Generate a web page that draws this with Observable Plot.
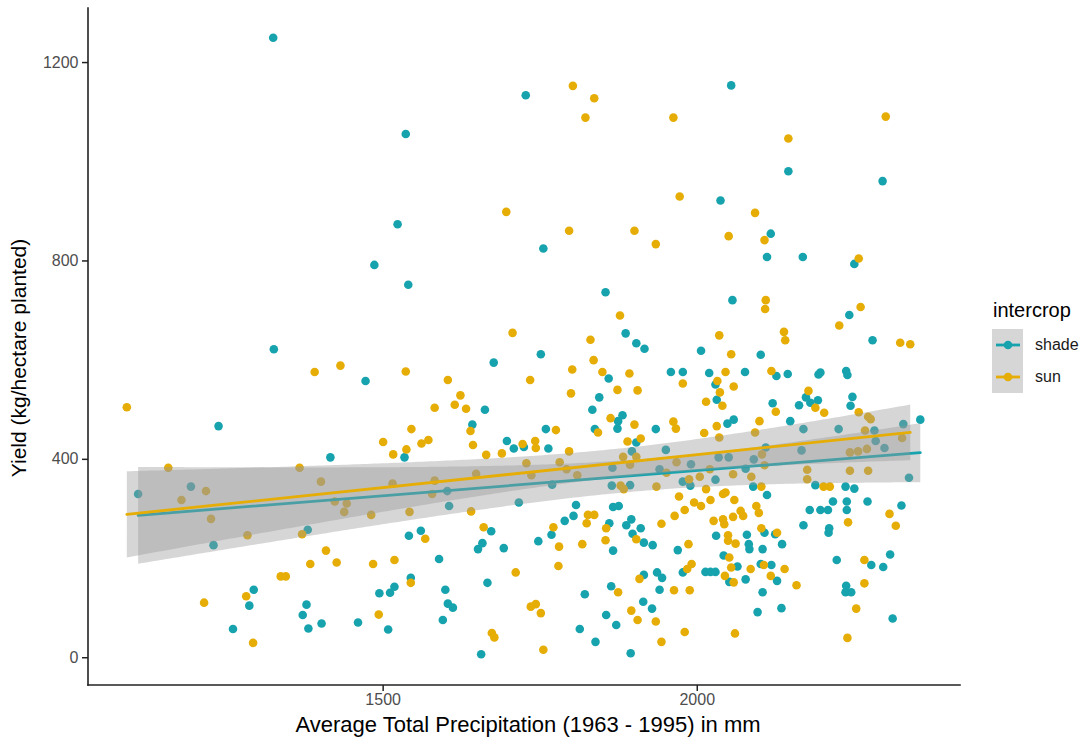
<!DOCTYPE html>
<html><head><meta charset="utf-8">
<script src="https://cdn.jsdelivr.net/npm/d3@7"></script>
<script src="https://cdn.jsdelivr.net/npm/@observablehq/plot@0.6"></script>
<style>
body{margin:0;background:#fff;font-family:"Liberation Sans",Arial,sans-serif;}
#wrap{position:relative;width:1086px;height:740px;overflow:hidden;}
</style></head><body><div id="wrap"></div>
<script>
const groups = ["shade", "sun"];
const groupColors = ["#17A3AE", "#E5AD06"];
const xTicks = [1500, 2000];
const yTicks = [0, 400, 800, 1200];
const xTitle = "Average Total Precipitation (1963 - 1995) in mm";
const yTitle = "Yield (kg/hectare planted)";
const legendTitle = "intercrop";

const shadeX = [1325,1536,1523,1486,1326,1238,1727,2054,2145,2295,2037,2117,1755,2111,2168,2250,1540,1472,1676,1662,1642,1534,1416,1697,1708,1854,1886,1903,1916,1751,1859,1958,1977,2006,2019,2031,2029,1844,1833,1881,1874,1873,1934,1837,1759,1903,1896,1950,1724,1763,2056,2242,2279,2101,2076,2126,2144,2193,2196,2237,2239,2120,2162,2173,2180,2192,2247,2244,2355,2328,2048,2058,2148,2169,2225,2282,2284,2298,2166,2109,2090,2050,2034,1110,1194,1230,1380,1294,1287,1261,1378,1372,1381,1402,1460,1508,1602,1605,1541,1560,1672,1658,1651,1692,1589,1544,1518,1511,1494,1599,1603,1611,1666,1595,1656,1865,1769,1716,1864,1893,1940,1977,1989,1990,2029,1807,1866,1875,1803,1789,1768,1747,1860,1866,1887,1895,1897,1910,1915,1929,1969,2030,1863,1821,1915,1936,1944,1940,1977,2013,2021,2029,1914,1928,1855,1871,1813,1838,1894,2077,2337,2188,2236,2250,2089,2111,2216,2238,2238,2271,2325,2179,2196,2208,2169,2210,2209,2107,2124,2079,2135,2082,2083,2104,2042,2064,2051,2077,2101,2118,2127,2104,2134,2096,2222,2277,2296,2307,2237,2236,2245,2311];
const shadeY = [1250,1056,874,792,622,467,1134,1154,981,961,922,855,825,808,808,794,752,558,595,500,470,404,404,437,422,737,654,634,623,612,563,576,576,619,574,520,551,525,500,489,477,462,461,461,461,434,416,419,425,422,721,691,640,611,576,568,572,571,575,578,570,513,509,525,514,519,526,508,480,471,472,480,477,461,461,458,437,423,418,424,400,404,404,330,345,227,258,137,105,58,107,86,59,69,71,57,336,306,246,256,255,231,219,221,199,161,143,131,130,137,109,101,151,76,7,383,349,313,347,348,380,355,347,390,359,308,304,306,286,276,248,235,271,216,267,279,250,261,232,227,217,246,144,128,167,172,161,137,172,173,173,173,113,99,86,66,58,32,9,381,363,348,345,341,345,328,315,315,298,315,307,298,298,298,267,261,252,252,249,248,229,229,219,219,206,184,153,158,189,187,155,132,100,92,197,187,183,208,145,132,132,79];

const sunX = [1092,1696,1802,1836,1822,1962,2300,2145,1972,2092,2107,1796,1900,1934,2050,2257,1706,1391,1432,1536,1603,1623,1614,1632,1582,1639,1545,1500,1561,1572,1537,1516,1643,1664,1689,1877,1830,1835,1801,1734,1849,1892,1977,2035,1799,1873,1905,2014,2032,2036,1862,1900,1962,1966,1842,2011,2031,1775,1889,1910,1722,1742,1743,1796,1882,1903,2109,2108,2260,2226,2138,2140,2323,2339,2054,2045,2118,2058,2040,2125,2177,2188,2202,2257,2272,2276,2099,2267,2326,2092,2035,2243,2256,2270,2103,1158,1367,1218,1179,1226,1284,1371,1384,1337,1345,1282,1215,1293,1493,1401,1515,1582,1648,1578,1423,1442,1438,1481,1542,1640,1567,1660,1409,1426,1484,1518,1544,1673,1677,1711,1728,1781,1736,1792,1809,1893,1878,1883,1935,1951,1967,1987,2004,2020,2014,1971,1995,2006,2021,1980,1826,1836,1824,1771,1780,1817,1855,1854,1903,1943,1964,1986,2026,1779,1874,1908,1984,1991,1963,1988,1735,1743,1751,1895,1905,1934,1980,1943,1755,2057,2107,2086,2175,2175,2243,2272,2201,2211,2102,2041,2045,2059,2306,2316,2240,2094,2098,2069,2073,2057,2041,2043,2102,2127,2049,2049,2061,2051,2054,2044,2058,2085,2106,2139,2117,2158,2060,2266,2266,2253,2239];
const sunY = [505,899,1153,1128,1089,1089,1091,1047,930,897,842,861,861,834,850,805,655,576,589,577,560,529,510,502,504,457,461,435,432,439,420,410,429,409,412,690,641,600,581,560,576,573,553,650,533,540,539,516,558,535,483,470,476,462,454,453,467,459,436,442,431,437,423,416,405,405,721,703,707,670,657,640,635,632,612,576,578,547,508,496,538,504,494,495,486,481,477,458,443,454,444,414,416,421,410,383,383,336,318,280,247,249,189,164,164,124,111,30,87,355,351,357,371,330,315,311,294,288,294,295,240,263,216,192,189,197,151,50,41,172,392,394,368,380,368,389,347,340,345,373,394,360,365,380,340,325,313,306,318,298,288,288,271,263,224,229,261,237,239,270,286,229,276,185,132,159,179,189,136,136,103,108,90,95,76,73,52,32,16,370,388,365,379,360,377,377,345,345,345,330,333,318,290,266,273,306,292,296,286,284,279,269,261,252,247,236,230,202,182,165,152,179,187,179,165,146,49,197,150,99,40];

const rows = [
  ...shadeX.map((x, i) => ({precip: x, yield: shadeY[i], intercrop: groups[0]})),
  ...sunX.map((x, i) => ({precip: x, yield: sunY[i], intercrop: groups[1]}))
];

const font = '"Liberation Sans", Arial, sans-serif';
const chart = Plot.plot({
  width: 1086, height: 740,
  marginLeft: 88, marginRight: 126, marginTop: 8, marginBottom: 55,
  style: {fontFamily: font, background: "white"},
  x: {domain: [1031, 2419]},
  y: {domain: [-56, 1309]},
  color: {domain: groups, range: groupColors},
  marks: [
    Plot.axisY({ticks: yTicks, tickFormat: d => String(d), tickSize: 6, tickPadding: 4, fontSize: 16, label: null, stroke: "#222", fill: "#4d4d4d", strokeWidth: 1.5}),
    Plot.axisX({ticks: xTicks, tickFormat: d => String(d), tickSize: 6, tickPadding: 2, fontSize: 16, label: null, stroke: "#222", fill: "#4d4d4d", strokeWidth: 1.5}),
    Plot.dot(rows, {x: "precip", y: "yield", fill: "intercrop", r: 4.3}),
    Plot.linearRegressionY(rows, {x: "precip", y: "yield", stroke: "intercrop", fill: "#999", fillOpacity: 0.4, strokeWidth: 2.8})
  ]
});
document.getElementById("wrap").appendChild(chart);

const svg = d3.select(chart);
const [x0, x1] = chart.scale("x").range;
const [y0, y1] = chart.scale("y").range;
const axes = svg.append("g").attr("stroke", "#222").attr("stroke-width", 1.6).attr("stroke-linecap", "square");
axes.append("line").attr("x1", x0).attr("x2", x0).attr("y1", y0).attr("y2", y1);
axes.append("line").attr("x1", x0).attr("x2", x1).attr("y1", y0).attr("y2", y0);

svg.append("text").attr("x", 528).attr("y", 732).attr("text-anchor", "middle")
  .attr("font-size", 22).attr("fill", "#000").attr("font-family", font).text(xTitle);
svg.append("text").attr("transform", "translate(26,358) rotate(-90)").attr("text-anchor", "middle")
  .attr("font-size", 21).attr("fill", "#000").attr("font-family", font).text(yTitle);

const lg = svg.append("g").attr("font-family", font).attr("text-anchor", "start");
lg.append("text").attr("x", 993).attr("y", 317).attr("font-size", 20).attr("fill", "#000").attr("text-anchor", "start").text(legendTitle);
groups.forEach((g, i) => {
  const cy = 345 + i * 32;
  lg.append("rect").attr("x", 992).attr("y", cy - 16).attr("width", 31).attr("height", 32).attr("fill", "#d6d6d6");
  lg.append("line").attr("x1", 996).attr("x2", 1020).attr("y1", cy).attr("y2", cy).attr("stroke", groupColors[i]).attr("stroke-width", 2.8);
  lg.append("circle").attr("cx", 1008).attr("cy", cy).attr("r", 4.3).attr("fill", groupColors[i]);
  lg.append("text").attr("x", 1035).attr("y", cy + 5).attr("font-size", 16).attr("fill", "#1a1a1a").attr("text-anchor", "start").text(g);
});
</script></body></html>
